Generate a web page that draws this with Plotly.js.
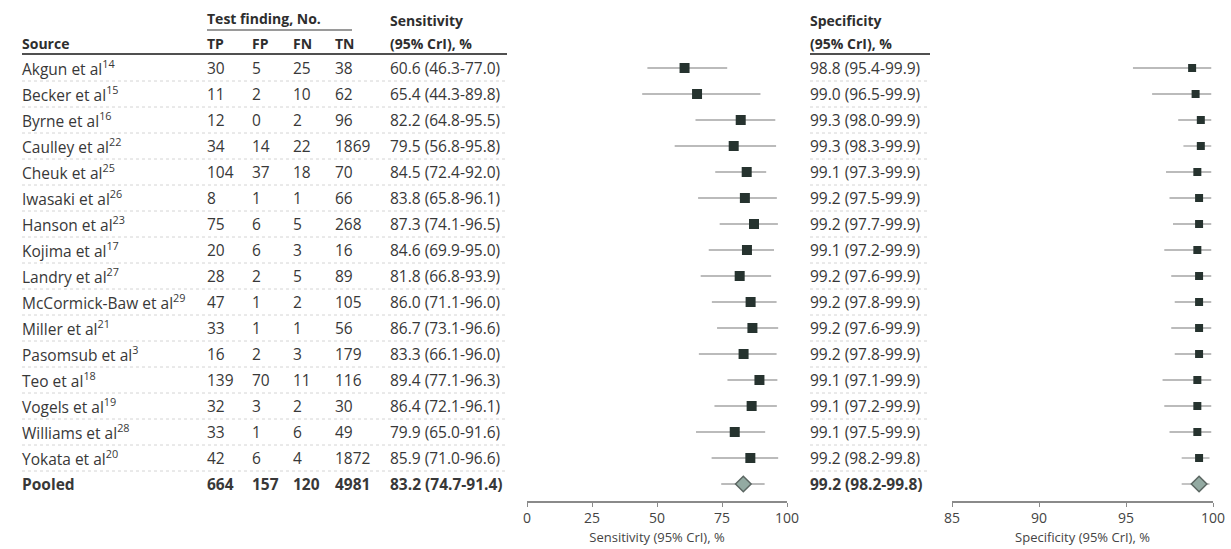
<!DOCTYPE html>
<html>
<head>
<meta charset="utf-8">
<script src="https://cdn.plot.ly/plotly-3.0.1.min.js"></script>
<style>html,body{margin:0;padding:0;background:#fff;}#chart{width:1231px;height:549px;}</style>
</head>
<body>
<div id="chart"></div>
<script>
const sources = ["Akgun et al","Becker et al","Byrne et al","Caulley et al","Cheuk et al","Iwasaki et al","Hanson et al","Kojima et al","Landry et al","McCormick-Baw et al","Miller et al","Pasomsub et al","Teo et al","Vogels et al","Williams et al","Yokata et al","Pooled"];
const refs = ["14","15","16","22","25","26","23","17","27","29","21","3","18","19","28","20",""];
const TP = [30,11,12,34,104,8,75,20,28,47,33,16,139,32,33,42,664];
const FP = [5,2,0,14,37,1,6,6,2,1,1,2,70,3,1,6,157];
const FN = [25,10,2,22,18,1,5,3,5,2,1,3,11,2,6,4,120];
const TN = [38,62,96,1869,70,66,268,16,89,105,56,179,116,30,49,1872,4981];
const sens   = [60.6,65.4,82.2,79.5,84.5,83.8,87.3,84.6,81.8,86.0,86.7,83.3,89.4,86.4,79.9,85.9,83.2];
const sensLo = [46.3,44.3,64.8,56.8,72.4,65.8,74.1,69.9,66.8,71.1,73.1,66.1,77.1,72.1,65.0,71.0,74.7];
const sensHi = [77.0,89.8,95.5,95.8,92.0,96.1,96.5,95.0,93.9,96.0,96.6,96.0,96.3,96.1,91.6,96.6,91.4];
const spec   = [98.8,99.0,99.3,99.3,99.1,99.2,99.2,99.1,99.2,99.2,99.2,99.2,99.1,99.1,99.1,99.2,99.2];
const specLo = [95.4,96.5,98.0,98.3,97.3,97.5,97.7,97.2,97.6,97.8,97.6,97.8,97.1,97.2,97.5,98.2,98.2];
const specHi = [99.9,99.9,99.9,99.9,99.9,99.9,99.9,99.9,99.9,99.9,99.9,99.9,99.9,99.9,99.9,99.8,99.8];
const sensTicks = [0,25,50,75,100];
const specTicks = [85,90,95,100];

const W = 1231, H = 549;
const px = x => x / W;
const py = y => 1 - y / H;
const n = sources.length;
const studies = [...Array(n - 1).keys()];
const pooled = n - 1;
const FONT = "'Open Sans', sans-serif";
const TXT = "#383838";

function fmt(v, lo, hi) { return v.toFixed(1) + " (" + lo.toFixed(1) + "-" + hi.toFixed(1) + ")"; }

const errBar = (vals, lo, hi, idx, w) => ({
  type: "data", symmetric: false,
  array: idx.map(i => hi[i] - vals[i]),
  arrayminus: idx.map(i => vals[i] - lo[i]),
  color: "#a5a5a5", thickness: w, width: 0
});

const traces = [
  { x: studies.map(i => sens[i]), y: studies, xaxis: "x", yaxis: "y", type: "scatter", mode: "markers",
    marker: { symbol: "square", size: 10, color: "#26332f" },
    error_x: errBar(sens, sensLo, sensHi, studies, 1.5), hoverinfo: "skip" },
  { x: [sens[pooled]], y: [pooled], xaxis: "x", yaxis: "y", type: "scatter", mode: "markers",
    marker: { symbol: "diamond", size: 12, color: "#93aaa2", line: { color: "#5b6662", width: 1.5 } },
    error_x: errBar(sens, sensLo, sensHi, [pooled], 1.5), hoverinfo: "skip" },
  { x: studies.map(i => spec[i]), y: studies, xaxis: "x2", yaxis: "y", type: "scatter", mode: "markers",
    marker: { symbol: "square", size: 8, color: "#26332f" },
    error_x: errBar(spec, specLo, specHi, studies, 1.3), hoverinfo: "skip" },
  { x: [spec[pooled]], y: [pooled], xaxis: "x2", yaxis: "y", type: "scatter", mode: "markers",
    marker: { symbol: "diamond", size: 12, color: "#93aaa2", line: { color: "#5b6662", width: 1.5 } },
    error_x: errBar(spec, specLo, specHi, [pooled], 1.3), hoverinfo: "skip" }
];

const ann = [];
const cell = (x, y, text, bold) => ann.push({
  xref: "paper", yref: "y", x: px(x), y: y, xanchor: "left", yanchor: "middle",
  text: bold ? "<b>" + text + "</b>" : text, showarrow: false,
  font: { family: FONT, size: 15.5, color: TXT }
});
for (let i = 0; i < n; i++) {
  const b = i === pooled;
  cell(20, i, sources[i] + (refs[i] ? "<sup>" + refs[i] + "</sup>" : ""), b);
  cell(205, i, String(TP[i]), b);
  cell(250, i, String(FP[i]), b);
  cell(291, i, String(FN[i]), b);
  cell(333, i, String(TN[i]), b);
  cell(388, i, fmt(sens[i], sensLo[i], sensHi[i]), b);
  cell(808, i, fmt(spec[i], specLo[i], specHi[i]), b);
}
const head = (x, y, text) => ann.push({
  xref: "paper", yref: "paper", x: px(x), y: py(y), xanchor: "left", yanchor: "middle",
  text: "<b>" + text + "</b>", showarrow: false, font: { family: FONT, size: 14, color: "#2e2e2e" }
});
head(205, 19, "Test finding, No.");
head(20, 43, "Source");
head(205, 43, "TP"); head(250, 43, "FP"); head(291, 43, "FN"); head(333, 43, "TN");
head(388, 20, "Sensitivity"); head(388, 43, "(95% CrI), %");
head(808, 20, "Specificity"); head(808, 43, "(95% CrI), %");

const shapes = [
  { type: "line", xref: "paper", yref: "paper", x0: px(207), x1: px(352), y0: py(30), y1: py(30), line: { color: "#9a9a9a", width: 2 } },
  { type: "line", xref: "paper", yref: "paper", x0: px(22), x1: px(507), y0: py(54), y1: py(54), line: { color: "#505050", width: 2 } },
  { type: "line", xref: "paper", yref: "paper", x0: px(810), x1: px(930), y0: py(54), y1: py(54), line: { color: "#505050", width: 2 } }
];
for (let i = 0; i < n - 1; i++) {
  shapes.push({ type: "line", xref: "paper", yref: "y", x0: px(22), x1: px(507), y0: i + 0.5, y1: i + 0.5, line: { color: "#d4d4d4", width: 1, dash: "dot" } });
  shapes.push({ type: "line", xref: "paper", yref: "y", x0: px(810), x1: px(930), y0: i + 0.5, y1: i + 0.5, line: { color: "#d4d4d4", width: 1, dash: "dot" } });
}

const axisCommon = {
  showline: true, linecolor: "#8a8a8a", linewidth: 1.5, ticks: "outside", ticklen: 4, tickcolor: "#8a8a8a",
  showgrid: false, zeroline: false, fixedrange: true, automargin: false,
  tickfont: { family: FONT, size: 14, color: "#444" }
};
const layout = {
  width: W, height: H, margin: { l: 0, r: 0, t: 0, b: 0 },
  paper_bgcolor: "#fff", plot_bgcolor: "#fff", showlegend: false,
  xaxis: Object.assign({}, axisCommon, { domain: [px(527), px(787)], range: [0, 100], tickvals: sensTicks, anchor: "y",
    title: { text: "Sensitivity (95% CrI), %", font: { family: FONT, size: 13, color: "#444" }, standoff: 6 } }),
  xaxis2: Object.assign({}, axisCommon, { domain: [px(952), px(1213)], range: [85, 100], tickvals: specTicks, anchor: "y",
    title: { text: "Specificity (95% CrI), %", font: { family: FONT, size: 13, color: "#444" }, standoff: 6 } }),
  yaxis: { domain: [py(501), py(55)], range: [16.654, -0.5], visible: false, fixedrange: true },
  annotations: ann, shapes: shapes
};
Plotly.newPlot("chart", traces, layout, { displayModeBar: false, staticPlot: true });
</script>
</body>
</html>
